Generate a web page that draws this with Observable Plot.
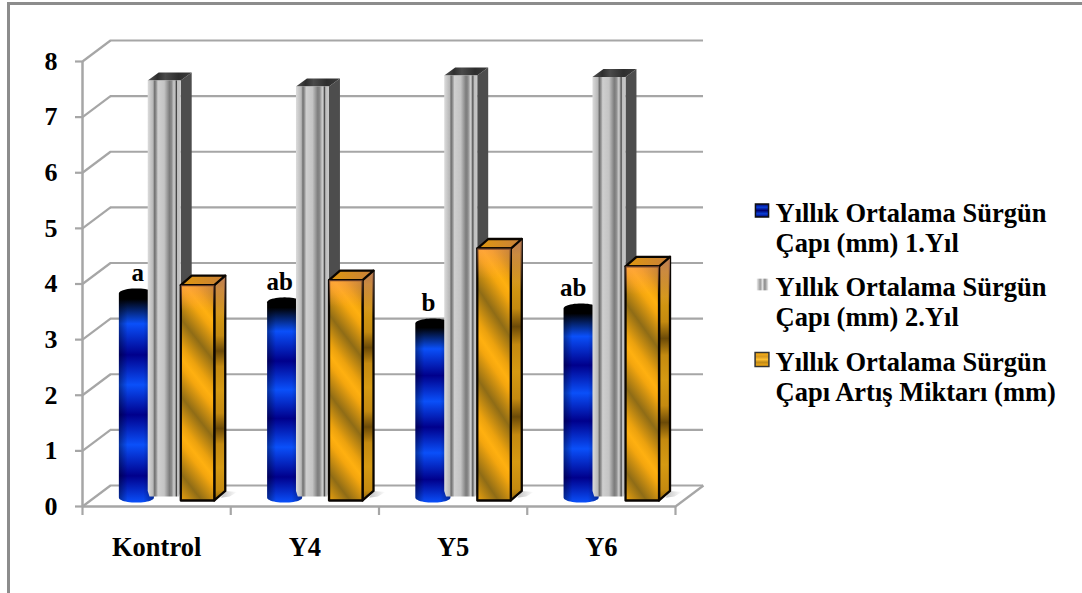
<!DOCTYPE html>
<html>
<head>
<meta charset="utf-8">
<script src="https://cdn.jsdelivr.net/npm/d3@7"></script>
<script src="https://cdn.jsdelivr.net/npm/@observablehq/plot@0.6"></script>
<style>
  html, body { margin: 0; padding: 0; background: #fff; overflow: hidden; }
  #chart { position: relative; width: 1082px; height: 593px; }
  #chart::before {
    content: ""; position: absolute; left: 7px; top: 2px; right: 0; bottom: 0;
    border-left: 3px solid #8c8c8c; border-top: 3px solid #8c8c8c;
  }
  #chart svg { position: absolute; left: 0; top: 0; overflow: visible; background: transparent; }
</style>
</head>
<body>
<div id="chart"></div>
<script>
// Series values (mm) for each treatment
const categories = ["Kontrol", "Y4", "Y5", "Y6"];
const year1 = [3.67, 3.51, 3.13, 3.4];
const year2 = [7.48, 7.37, 7.57, 7.54];
const increase = [3.87, 3.96, 4.53, 4.21];
const letters = ["a", "ab", "b", "ab"];
const yTicks = [0, 1, 2, 3, 4, 5, 6, 7, 8];
const xBoundaries = [0, 1, 2, 3, 4];
const legendLabels = [
  "Yıllık Ortalama Sürgün\nÇapı (mm) 1.Yıl",
  "Yıllık Ortalama Sürgün\nÇapı (mm) 2.Yıl",
  "Yıllık Ortalama Sürgün\nÇapı Artış Miktarı (mm)"
];

// Oblique projection of the chart box, in axis units
const wallX = 0.189, wallY = 0.3775;
const grid = "#a6a6a6";
const serif = "'Liberation Serif', 'Times New Roman', serif";

// Bar layout inside a category slot, in axis units
const blue = {start: 0.2455, width: 0.236, base: 0.16, cap: 0.09};
const gray = {start: 0.44, width: 0.2226, base: 0.18, dx: 0.074, dy: 0.144, round: 0.012};
const gold = {start: 0.663, width: 0.226, base: 0.108, dx: 0.074, dy: 0.171};
const letterShift = [0.01, -0.034, -0.03, -0.054];

function poly(id, pts) { return pts.map(([x, y]) => ({id, x, y})); }

function cylinder(i, v) {
  const x0 = i + blue.start, w = blue.width, top = v + blue.base, bot = blue.base, pts = [];
  for (let k = 0; k <= 24; ++k) {
    const t = Math.PI * k / 24;
    pts.push([x0 + w / 2 - Math.cos(t) * w / 2, top + Math.sin(t) * blue.cap]);
  }
  for (let k = 0; k <= 24; ++k) {
    const t = Math.PI * k / 24;
    pts.push([x0 + w / 2 + Math.cos(t) * w / 2, bot - Math.sin(t) * blue.cap]);
  }
  return poly("c" + i, pts);
}

function box(spec, i, v, key, rounded) {
  const x0 = i + spec.start, x1 = x0 + spec.width, b = spec.base, t = b + v, dx = spec.dx, dy = spec.dy;
  const r = rounded ? spec.round : 0;
  const front = rounded
    ? [[x0, t], [x1, t], [x1, b + 0.1], [x1 - r, b], [x0 + r, b], [x0, b + 0.1]]
    : [[x0, t], [x1, t], [x1, b], [x0, b]];
  return {
    side: poly(key + "s" + i, [[x1, t], [x1 + dx, t + dy], [x1 + dx, b + dy + (rounded ? 0.1 : 0)], [x1, b + (rounded ? 0.1 : 0)]]),
    top: poly(key + "t" + i, [[x0, t], [x0 + dx, t + dy], [x1 + dx, t + dy], [x1, t]]),
    front: poly(key + "f" + i, front)
  };
}

function facet(data, fill, extra = {}) {
  return Plot.line(data, {x: "x", y: "y", z: "id", curve: "linear-closed", fill, stroke: "none", ...extra});
}

// Gradient paints used by the bars and legend keys
function paints() {
  const defs = d3.create("svg:defs");
  const grad = (id, stops, attrs) => {
    const g = defs.append("linearGradient").attr("id", id);
    Object.entries(attrs).forEach(([k, v]) => g.attr(k, v));
    stops.forEach(([o, c, a]) => g.append("stop").attr("offset", o).attr("stop-color", c).attr("stop-opacity", a ?? 1));
  };
  const B = "#0a50fa", D = "#00008c";
  grad("blueBands", [[0, "#000"], [0.05, "#000"], [0.165, B], [0.31, D], [0.45, B], [0.59, D], [0.73, B], [0.875, D], [1, B]],
    {x1: 0, y1: 0, x2: 0, y2: 1});
  grad("blueShade", [[0, "#000", 0.38], [0.25, "#000", 0], [0.7, "#000", 0], [1, "#000", 0.35]],
    {x1: 0, y1: 0, x2: 1, y2: 0});
  grad("silver", [[0, "#dcdcdc"], [0.16, "#b8b8b8"], [0.21, "#6e6e6e"], [0.27, "#a0a0a0"], [0.31, "#cfcfcf"], [0.5, "#c4c4c4"], [0.66, "#7c7c7c"], [0.72, "#8a8a8a"], [0.8, "#cfcfcf"], [0.84, "#999"], [0.87, "#3e3e3e"], [0.9, "#bdbdbd"], [1, "#c8c8c8"]],
    {x1: 0, y1: 0, x2: 1, y2: 0});
  grad("silverTop", [[0, "#555"], [0.22, "#2e2e2e"], [0.4, "#4a4a4a"], [0.7, "#2e2e2e"], [1, "#3c3c3c"]],
    {x1: 0, y1: 0, x2: 1, y2: 0});
  grad("goldFront", [[0, "#ffb010"], [0.12, "#f4a60e"], [0.5, "#8f6c16"], [0.85, "#eca20e"], [1, "#ffb010"]],
    {x1: 0.535, y1: 0.082, x2: 0.466, y2: 0.428, spreadMethod: "repeat"});
  grad("goldSide", [[0, "#d69a12"], [0.3, "#c48a10"], [0.5, "#6b4a08"], [0.7, "#c48a10"], [1, "#d69a12"]],
    {x1: 0, y1: 0.1625, x2: 0, y2: 0.5075, spreadMethod: "repeat"});
  grad("goldWash", [[0, "#ff9a66", 0.5], [0.12, "#ff9a66", 0]], {x1: 0, y1: 0, x2: 0, y2: 1});
  grad("goldSideWash", [[0, "#d08a60", 0.85], [0.2, "#d08a60", 0]], {x1: 0, y1: 0, x2: 0, y2: 1});
  grad("goldTop", [[0, "#e0980e"], [1, "#c8803a"]], {x1: 0, y1: 0, x2: 1, y2: 0});
  grad("floorShadow", [[0, "#777", 0.45], [1, "#777", 0]], {x1: 0, y1: 0, x2: 1, y2: 0});
  grad("keyBlue", [[0, "#00006e"], [0.25, "#0a40d8"], [0.5, "#00006e"], [0.75, "#0a40d8"], [1, "#00006e"]], {x1: 0, y1: 0, x2: 0, y2: 1});
  grad("keyGray", [[0, "#f0f0f0"], [0.3, "#999"], [0.5, "#e0e0e0"], [0.7, "#888"], [1, "#f0f0f0"]], {x1: 0, y1: 0, x2: 1, y2: 0});
  grad("keyGold", [[0, "#ffb212"], [0.3, "#d89a20"], [0.5, "#ffc030"], [0.7, "#c08a18"], [1, "#ffb212"]], {x1: 0, y1: 0, x2: 0, y2: 1});
  return defs.node();
}

const barMarks = categories.flatMap((_, i) => {
  const g = box(gray, i, year2[i], "g", true);
  const o = box(gold, i, increase[i], "o", false);
  const cyl = cylinder(i, year1[i]);
  const sx = i + gold.start + gold.width + gold.dx;
  const shadow = poly("sh" + i, [[sx, gold.base + gold.dy], [sx + 0.08, gold.base + gold.dy - 0.02], [sx + 0.03, gold.base + 0.07], [sx - 0.03, gold.base + 0.05]]);
  const edge = {stroke: "#0a0500", strokeWidth: 2.3, strokeLinejoin: "round"};
  return [
    facet(shadow, "url(#floorShadow)"),
    facet(cyl, "url(#blueBands)"),
    facet(cyl, "url(#blueShade)"),
    facet(g.side, "#4d4d4d"),
    facet(g.top, "url(#silverTop)"),
    facet(g.front, "url(#silver)"),
    facet(o.side, "url(#goldSide)", edge),
    facet(o.side, "url(#goldSideWash)"),
    facet(o.top, "url(#goldTop)", edge),
    facet(o.front, "url(#goldFront)", edge),
    facet(o.front, "url(#goldWash)")
  ];
});

// Legend, laid out from the top-left corner of the frame
const legendLeft = 693;
const legendText = [139, 213, 288];
const legendKeys = [
  {dx: 679.5, dy: 149, fill: "url(#keyBlue)", stroke: "#111", r: 7.4},
  {dx: 680, dy: 223, fill: "url(#keyGray)", stroke: "none", r: 6.6},
  {dx: 679.5, dy: 298, fill: "url(#keyGold)", stroke: "#333", r: 7.8}
];

const chart = Plot.plot({
  width: 1082,
  height: 593,
  marginLeft: 82,
  marginRight: 407,
  marginTop: 61,
  marginBottom: 87,
  style: {background: "transparent", fontFamily: serif, color: "#000"},
  x: {type: "linear", domain: [0, 4]},
  y: {domain: [0, 8]},
  marks: [
    paints,
    // back wall and left wall grid
    Plot.ruleY(yTicks, {y: (d) => d + wallY, x1: wallX, x2: 4 + wallX, stroke: grid, strokeWidth: 2.2}),
    Plot.link(yTicks, {x1: 0, x2: wallX, y1: (d) => d, y2: (d) => d + wallY, stroke: grid, strokeWidth: 2.2}),
    // floor edges
    Plot.ruleY([0], {x1: 0, x2: 4, stroke: grid, strokeWidth: 2.5}),
    Plot.link([0], {x1: 4, x2: 4 + wallX, y1: 0, y2: wallY, stroke: grid, strokeWidth: 2.2}),
    Plot.ruleX([0], {y1: 0, y2: 8, stroke: grid, strokeWidth: 2.5}),
    // axes
    Plot.axisY({ticks: yTicks, tickSize: 7, tickPadding: 18, stroke: grid, strokeWidth: 2.2, fill: "#000", label: null,
      fontSize: 26, fontWeight: "bold", fontFamily: serif}),
    Plot.axisX({ticks: xBoundaries, tickSize: 9, tickFormat: () => "", stroke: grid, strokeWidth: 2.2, label: null}),
    Plot.axisX({ticks: categories.map((_, i) => i + 0.5), tickSize: 0, tickPadding: 31, tickFormat: (d) => categories[d - 0.5],
      fill: "#000", label: null, fontSize: 26.5, fontWeight: "bold", fontFamily: serif}),
    ...barMarks,
    // significance letters above the first-year bars
    Plot.text(letters, {
      x: (_, i) => i + blue.start + blue.width / 2 + letterShift[i],
      y: (_, i) => year1[i] + blue.base + blue.cap,
      text: (d) => d,
      lineAnchor: "bottom",
      dy: -7.5,
      fontSize: 25,
      fontWeight: "bold",
      fontFamily: serif,
      fill: "#000"
    }),
    ...legendKeys.map((k) => Plot.dot([k], {
      frameAnchor: "top-left", dx: k.dx, dy: k.dy, symbol: "square", r: k.r, fill: k.fill, stroke: k.stroke, strokeWidth: 1.5
    })),
    ...legendLabels.map((label, i) => Plot.text([label], {
      frameAnchor: "top-left", dx: legendLeft, dy: legendText[i], textAnchor: "start", lineAnchor: "top",
      fontSize: 26.5, lineHeight: 1.132, fontWeight: "bold", fontFamily: serif, fill: "#000", text: (d) => d
    }))
  ]
});

document.getElementById("chart").append(chart);
</script>
</body>
</html>
